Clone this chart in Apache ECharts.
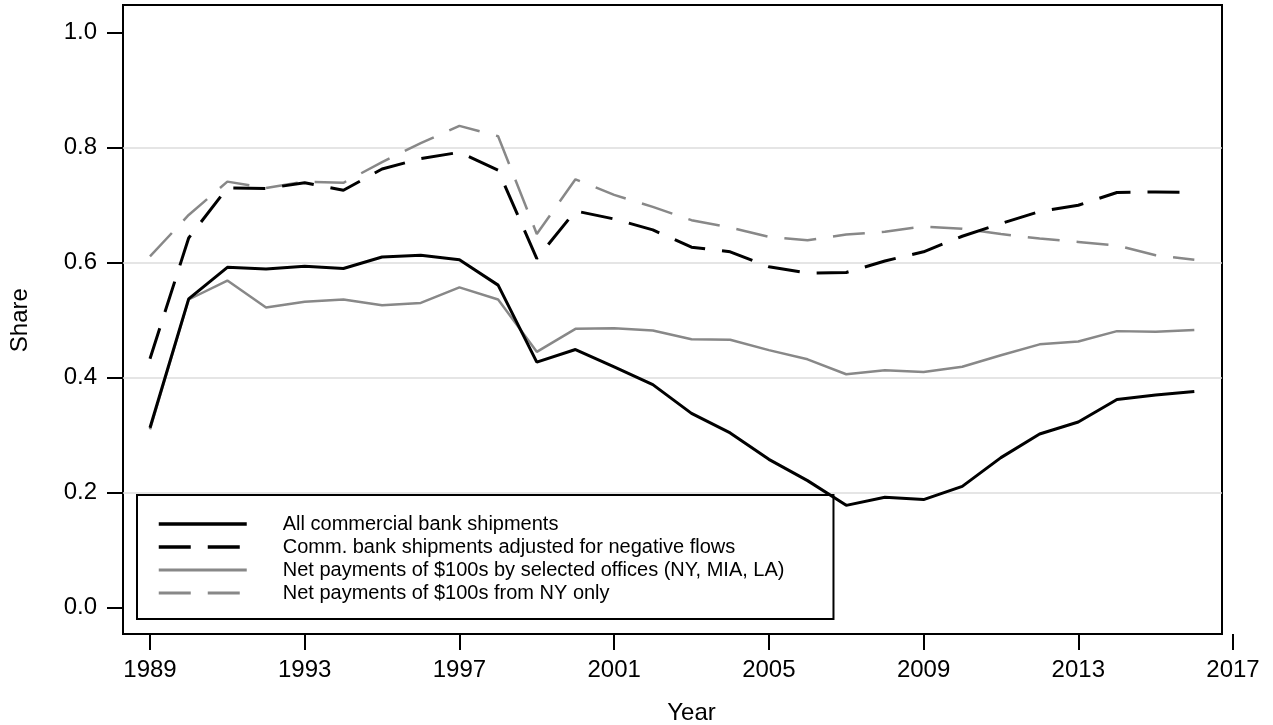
<!DOCTYPE html>
<html>
<head>
<meta charset="utf-8">
<script src="https://cdn.jsdelivr.net/npm/echarts@6/dist/echarts.min.js"></script>
<style>
  html, body { margin: 0; padding: 0; background: #fff; }
  #main { width: 1273px; height: 725px; }
</style>
</head>
<body>
<div id="main"></div>
<script>
// data
var years = [1989, 1990, 1991, 1992, 1993, 1994, 1995, 1996, 1997, 1998, 1999, 2000, 2001, 2002,
  2003, 2004, 2005, 2006, 2007, 2008, 2009, 2010, 2011, 2012, 2013, 2014, 2015, 2016];

var allShipments = [0.313, 0.537, 0.592, 0.589, 0.594, 0.590, 0.610, 0.613, 0.605, 0.561, 0.427, 0.449,
  0.419, 0.388, 0.338, 0.304, 0.258, 0.221, 0.178, 0.192, 0.188, 0.211, 0.261, 0.302, 0.323, 0.362, 0.370, 0.376];

var adjusted = [0.433, 0.643, 0.730, 0.729, 0.739, 0.726, 0.763, 0.781, 0.792, 0.761, 0.607, 0.690,
  0.676, 0.657, 0.627, 0.619, 0.593, 0.582, 0.583, 0.603, 0.619, 0.646, 0.668, 0.689, 0.700, 0.722, 0.723, 0.722];

var selectedOffices = [0.310, 0.536, 0.569, 0.522, 0.532, 0.536, 0.526, 0.530, 0.557, 0.536, 0.445, 0.485,
  0.486, 0.482, 0.467, 0.466, 0.448, 0.432, 0.406, 0.413, 0.410, 0.419, 0.439, 0.458, 0.463, 0.481, 0.480, 0.483];

var nyOnly = [0.611, 0.683, 0.741, 0.730, 0.741, 0.739, 0.775, 0.808, 0.838, 0.820, 0.650, 0.745,
  0.718, 0.697, 0.674, 0.661, 0.645, 0.639, 0.649, 0.654, 0.663, 0.659, 0.650, 0.642, 0.636, 0.630, 0.613, 0.605];

var names = [
  'All commercial bank shipments',
  'Comm. bank shipments adjusted for negative flows',
  'Net payments of $100s by selected offices (NY, MIA, LA)',
  'Net payments of $100s from NY only'
];

// axis ticks
var xMin = 1989, xMax = 2017, xStep = 4;
var yMin = 0, yMax = 1, yStep = 0.2;

function pairs(vals) {
  return years.map(function (y, i) { return [y, vals[i]]; });
}

var font = 'Liberation Sans, Arial, Helvetica, sans-serif';
var black = '#000';
var gray = '#888';
var tick = { show: true, inside: false, length: 16, lineStyle: { color: black, width: 2 } };
var dash = [32, 17];

var myChart = echarts.init(document.getElementById('main'));
myChart.setOption({
  animation: false,
  backgroundColor: '#fff',
  textStyle: { fontFamily: font },
  grid: [
    // 0: data
    { left: 150, right: 40, top: 32.7, height: 575, outerBoundsMode: 'none' },
    // 1: plot frame
    { left: 123, right: 51, top: 5, bottom: 91, show: true, borderColor: black, borderWidth: 2,
      backgroundColor: 'transparent', outerBoundsMode: 'none' },
    // 2: gridlines 0.2..0.8
    { left: 123, right: 51, top: 147.7, height: 345, outerBoundsMode: 'none' },
    // 3: x ticks, under the frame
    { left: 150, right: 40, top: 32.7, bottom: 91, outerBoundsMode: 'none' },
    // 4: y ticks, left of the frame
    { left: 123, right: 51, top: 32.7, height: 575, outerBoundsMode: 'none' }
  ],
  xAxis: [
    { gridIndex: 0, type: 'value', min: xMin, max: xMax, show: false },
    { gridIndex: 1, type: 'value', min: 0, max: 1, show: false },
    { gridIndex: 2, type: 'value', min: 0, max: 1, show: false },
    {
      gridIndex: 3, type: 'value', min: xMin, max: xMax, interval: xStep,
      axisLine: { show: false, onZero: false },
      axisTick: tick,
      axisLabel: { color: black, fontSize: 24, margin: 24, fontFamily: font,
        formatter: function (v) { return String(v); } },
      splitLine: { show: false },
      name: 'Year', nameLocation: 'middle', nameGap: 67,
      nameTextStyle: { color: black, fontSize: 24, fontFamily: font }
    },
    { gridIndex: 4, type: 'value', min: 0, max: 1, show: false }
  ],
  yAxis: [
    { gridIndex: 0, type: 'value', min: yMin, max: yMax, show: false },
    { gridIndex: 1, type: 'value', min: 0, max: 1, show: false },
    {
      gridIndex: 2, type: 'value', min: 0.2, max: 0.8, interval: yStep,
      axisLine: { show: false }, axisTick: { show: false }, axisLabel: { show: false },
      splitLine: { show: true, lineStyle: { color: '#dcdcdc', width: 1.5 } }
    },
    { gridIndex: 3, type: 'value', min: 0, max: 1, show: false },
    {
      gridIndex: 4, type: 'value', min: yMin, max: yMax, interval: yStep,
      axisLine: { show: false, onZero: false },
      axisTick: tick,
      axisLabel: {
        color: black, fontSize: 24, margin: 26, fontFamily: font,
        formatter: function (v) { return v.toFixed(1); }
      },
      splitLine: { show: false },
      name: 'Share', nameLocation: 'middle', nameGap: 91, nameRotate: 90,
      nameTextStyle: { color: black, fontSize: 24, fontFamily: font }
    }
  ],
  legend: {
    orient: 'vertical', left: 137, top: 495,
    align: 'left',
    data: [
      { name: names[0], lineStyle: { color: black, width: 3.5 } },
      { name: names[1], lineStyle: { color: black, width: 3.5, type: dash } },
      { name: names[2], lineStyle: { color: gray, width: 3 } },
      { name: names[3], lineStyle: { color: gray, width: 3, type: dash } }
    ],
    itemWidth: 88, itemHeight: 14, itemGap: 3,
    padding: [19, 49, 16, 20],
    backgroundColor: '#fff', borderColor: black, borderWidth: 2, borderRadius: 0,
    itemStyle: { opacity: 0 },
    textStyle: { color: black, fontSize: 20, fontFamily: font, lineHeight: 20, padding: [0, 0, 0, 31] },
    selectedMode: false
  },
  series: [
    {
      name: names[0], type: 'line', xAxisIndex: 0, yAxisIndex: 0, symbol: 'none',
      lineStyle: { color: black, width: 3 }, itemStyle: { color: black },
      data: pairs(allShipments), z: 5
    },
    {
      name: names[1], type: 'line', xAxisIndex: 0, yAxisIndex: 0, symbol: 'none',
      lineStyle: { color: black, width: 3, type: dash }, itemStyle: { color: black },
      data: pairs(adjusted), z: 5
    },
    {
      name: names[2], type: 'line', xAxisIndex: 0, yAxisIndex: 0, symbol: 'none',
      lineStyle: { color: gray, width: 2.5 }, itemStyle: { color: gray },
      data: pairs(selectedOffices), z: 4
    },
    {
      name: names[3], type: 'line', xAxisIndex: 0, yAxisIndex: 0, symbol: 'none',
      lineStyle: { color: gray, width: 2.5, type: dash }, itemStyle: { color: gray },
      data: pairs(nyOnly), z: 4
    }
  ]
});
</script>
</body>
</html>
